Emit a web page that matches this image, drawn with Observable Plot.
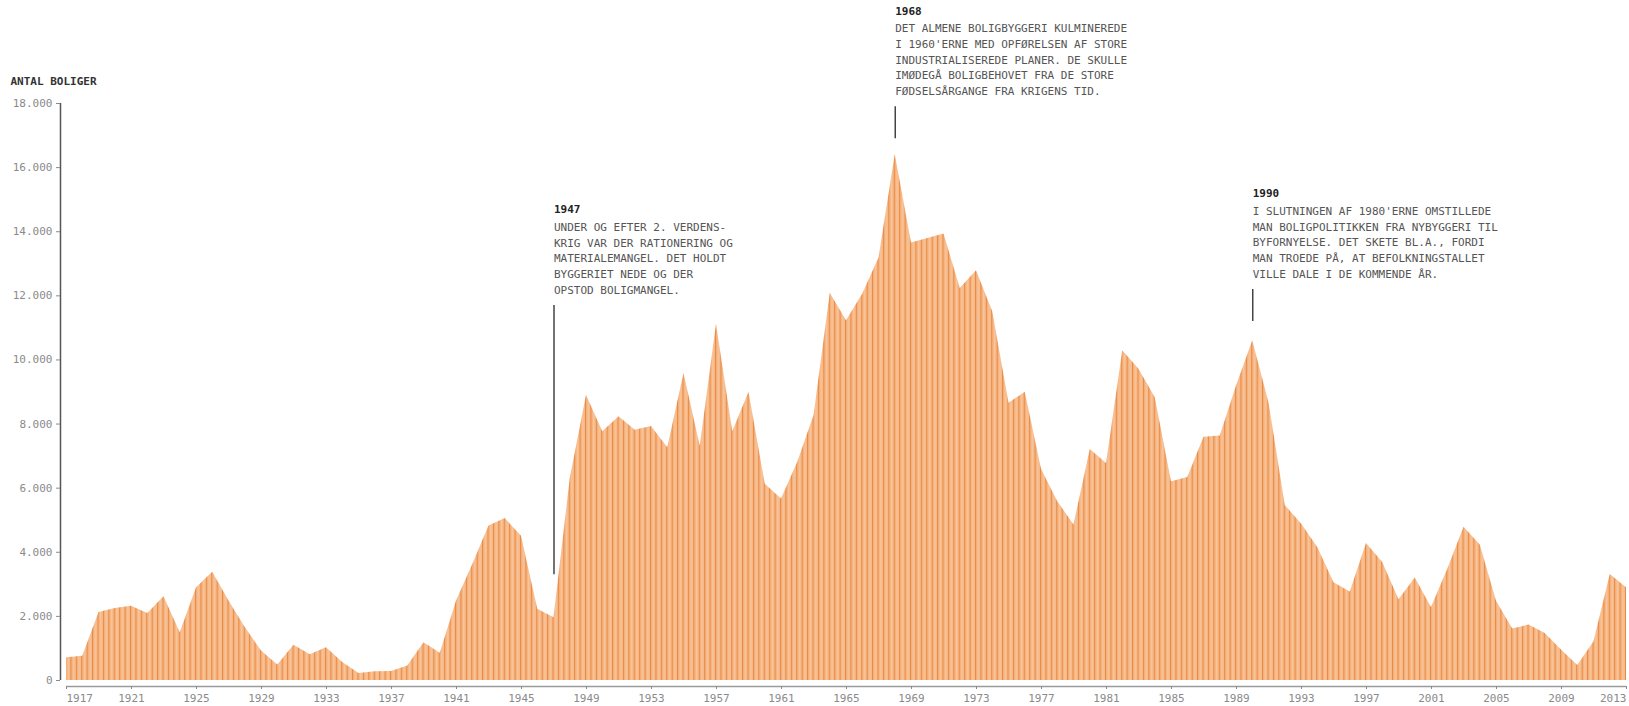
<!DOCTYPE html>
<html>
<head>
<meta charset="utf-8">
<script src="https://cdn.jsdelivr.net/npm/d3@7"></script>
<script src="https://cdn.jsdelivr.net/npm/@observablehq/plot@0.6"></script>
<style>
  html, body { margin: 0; padding: 0; background: #fff; }
  #chart svg { display: block; }
</style>
</head>
<body>
<div id="chart"></div>
<script>
// ---- data ----
const years = [
  1917, 1918, 1919, 1920, 1921, 1922, 1923, 1924, 1925, 1926,
  1927, 1928, 1929, 1930, 1931, 1932, 1933, 1934, 1935, 1936,
  1937, 1938, 1939, 1940, 1941, 1942, 1943, 1944, 1945, 1946,
  1947, 1948, 1949, 1950, 1951, 1952, 1953, 1954, 1955, 1956,
  1957, 1958, 1959, 1960, 1961, 1962, 1963, 1964, 1965, 1966,
  1967, 1968, 1969, 1970, 1971, 1972, 1973, 1974, 1975, 1976,
  1977, 1978, 1979, 1980, 1981, 1982, 1983, 1984, 1985, 1986,
  1987, 1988, 1989, 1990, 1991, 1992, 1993, 1994, 1995, 1996,
  1997, 1998, 1999, 2000, 2001, 2002, 2003, 2004, 2005, 2006,
  2007, 2008, 2009, 2010, 2011, 2012, 2013
];
const boliger = [
  710, 760, 2120, 2250, 2320, 2090, 2610, 1490, 2890, 3380,
  2480, 1650, 920, 480, 1100, 800, 1020, 560, 220, 270,
  280, 450, 1180, 850, 2480, 3620, 4820, 5050, 4500, 2220,
  1960, 6300, 8900, 7760, 8230, 7810, 7920, 7260, 9580, 7310,
  11110, 7760, 8990, 6120, 5660, 6810, 8260, 12080, 11220, 12060,
  13180, 16410, 13650, 13790, 13930, 12230, 12780, 11500, 8650, 8990,
  6590, 5580, 4850, 7210, 6770, 10290, 9710, 8820, 6200, 6330,
  7590, 7630, 9190, 10600, 8660, 5460, 4880, 4150, 3050, 2760,
  4270, 3680, 2520, 3200, 2280, 3470, 4780, 4230, 2470, 1610,
  1730, 1470, 950, 470, 1210, 3310, 2890
];
const yTicks = [0, 2000, 4000, 6000, 8000, 10000, 12000, 14000, 16000, 18000];
const xTicks = [1917, 1921, 1925, 1929, 1933, 1937, 1941, 1945, 1949, 1953, 1957,
  1961, 1965, 1969, 1973, 1977, 1981, 1985, 1989, 1993, 1997, 2001, 2005, 2009, 2013];
const yLabel = "ANTAL BOLIGER";

const annYears = [1947, 1968, 1990];
const annTop = [11700, 17900, 12200];
const annBottom = [3300, 16900, 11200];
const annBodies = [
  ["UNDER OG EFTER 2. VERDENS-", "KRIG VAR DER RATIONERING OG", "MATERIALEMANGEL. DET HOLDT", "BYGGERIET NEDE OG DER", "OPSTOD BOLIGMANGEL."],
  ["DET ALMENE BOLIGBYGGERI KULMINEREDE", "I 1960'ERNE MED OPFØRELSEN AF STORE", "INDUSTRIALISEREDE PLANER. DE SKULLE", "IMØDEGÅ BOLIGBEHOVET FRA DE STORE", "FØDSELSÅRGANGE FRA KRIGENS TID."],
  ["I SLUTNINGEN AF 1980'ERNE OMSTILLEDE", "MAN BOLIGPOLITIKKEN FRA NYBYGGERI TIL", "BYFORNYELSE. DET SKETE BL.A., FORDI", "MAN TROEDE PÅ, AT BEFOLKNINGSTALLET", "VILLE DALE I DE KOMMENDE ÅR."]
];

// ---- build ----
const data = years.map((year, i) => ({year, value: boliger[i]}));
const ann = annYears.map((year, i) => ({
  year, top: annTop[i], bottom: annBottom[i],
  title: String(year), body: annBodies[i].join("\n")
}));

const dk = d3.formatLocale({decimal: ",", thousands: ".", grouping: [3], currency: ["", ""]});
const fmtY = d => d === 0 ? "0" : dk.format(",")(d);

const FONT = "'DejaVu Sans Mono', 'Liberation Mono', monospace";
const LH = 15.8; // px line spacing of notes

const defs = () => {
  const ns = "http://www.w3.org/2000/svg";
  const d = document.createElementNS(ns, "defs");
  d.innerHTML =
    '<pattern id="stripes" patternUnits="userSpaceOnUse" width="5.4167" height="20">' +
    '<rect width="5.4167" height="20" fill="#f7b886"/>' +
    '<rect x="0" width="1.1" height="20" fill="#e98a44"/>' +
    '<rect x="3.2" width="0.6" height="20" fill="#fbd2b0"/>' +
    '</pattern>';
  return d;
};

const first = years[0], last = years[years.length - 1];
const axisStyle = {anchor: "bottom", tickSize: 3, tickPadding: 5, tickFormat: d => String(d), color: "#8a8a8a", fontSize: 11, label: null};

const plot = Plot.plot({
  width: 1629,
  height: 706,
  marginLeft: 60,
  marginRight: 3,
  marginTop: 103,
  marginBottom: 20,
  x: {domain: [first, last], insetLeft: 6, axis: null, label: null},
  y: {domain: [0, yTicks[yTicks.length - 1]], insetBottom: 6, axis: null, label: null},
  style: {fontFamily: FONT, fontSize: "11px", background: "#fff", color: "#333"},
  marks: [
    defs,
    Plot.areaY(data, {x: "year", y: "value", fill: "url(#stripes)"}),
    // axis lines
    Plot.ruleY([0], {x1: first, x2: last, dy: 6, stroke: "#9a9a9a", strokeWidth: 1.5}),
    Plot.ruleX([first], {y1: 0, y2: yTicks[yTicks.length - 1], dx: -6, stroke: "#555", strokeWidth: 1.5}),
    // y axis
    Plot.axisY(yTicks, {anchor: "left", tickSize: 4, tickPadding: 4, tickFormat: fmtY, color: "#8a8a8a", fontSize: 11, label: null}),
    // x axis
    Plot.axisX(xTicks.slice(1, -1), axisStyle),
    Plot.axisX([first], {...axisStyle, textAnchor: "start"}),
    Plot.axisX([last], {...axisStyle, textAnchor: "end"}),
    // y label
    Plot.text([yLabel], {frameAnchor: "top-left", dx: -50, dy: -26, textAnchor: "start", fontWeight: "bold", fill: "#333", fontSize: 11}),
    // annotations
    Plot.ruleX(ann, {x: "year", y1: "bottom", y2: "top", stroke: "#444", strokeWidth: 1.5}),
    Plot.text(ann, {x: "year", y: "top", text: "body", textAnchor: "start", lineAnchor: "middle", dy: -(16.5 + 2 * LH), lineHeight: LH / 11, fill: "#555", fontSize: 11}),
    Plot.text(ann, {x: "year", y: "top", text: "title", textAnchor: "start", lineAnchor: "middle", dy: -(16.5 + 5 * LH), fill: "#222", fontWeight: "bold", fontSize: 11})
  ]
});

document.getElementById("chart").appendChild(plot);
</script>
</body>
</html>
